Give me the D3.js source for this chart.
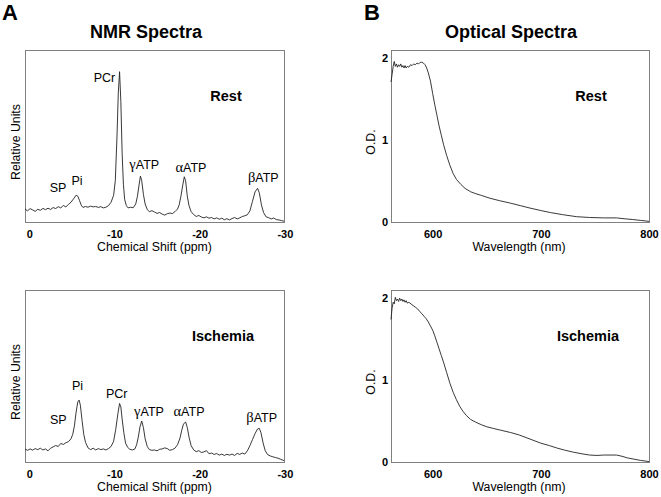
<!DOCTYPE html>
<html><head><meta charset="utf-8">
<script src="https://cdn.jsdelivr.net/npm/d3@7"></script>
<style>body{margin:0;background:#fff} svg text{font-family:"Liberation Sans",Arial,sans-serif;fill:#000}</style>
</head><body><svg id="c" width="661" height="497"></svg>
<script>
// ---------- data ----------
const nmrTicks = [0, -10, -20, -30];
const odXTicks = [600, 700, 800];
const odYTicks = [0, 1, 2];

// NMR spectra: [chemical shift (ppm), relative units]
const nmrRest = [
[0.5,7.5],[0.2,6.5],[-0.1,7.8],[-0.4,7.0],[-0.7,6.2],[-1.0,7.4],[-1.3,6.8],[-1.6,7.9],[-1.9,7.2],[-2.2,8.0],
[-2.5,7.3],[-2.8,8.4],[-3.1,7.8],[-3.4,8.9],[-3.7,8.2],[-4.0,9.6],[-4.3,8.8],[-4.6,10.2],[-4.9,11.5],[-5.2,13.5],
[-5.5,15.6],[-5.7,15.0],[-5.9,12.5],[-6.1,9.8],[-6.3,8.5],[-6.6,9.0],[-6.9,8.6],[-7.2,9.2],[-7.5,8.8],[-7.8,9.0],
[-8.1,8.5],[-8.4,8.9],[-8.7,8.2],[-9.0,8.6],[-9.3,9.5],[-9.6,11.5],[-9.9,15.5],[-10.1,24],[-10.3,50],[-10.45,75],
[-10.6,87.4],[-10.75,70],[-10.9,40],[-11.05,22],[-11.2,13],[-11.4,9.5],[-11.6,8.2],[-11.9,8.6],[-12.2,8.3],[-12.5,10.5],
[-12.7,15],[-12.9,22],[-13.05,26.7],[-13.2,24],[-13.4,16],[-13.6,10.5],[-13.85,7.2],[-14.1,6.0],[-14.4,6.6],[-14.7,5.8],
[-15.0,5.0],[-15.3,5.5],[-15.6,4.6],[-15.9,4.0],[-16.2,4.8],[-16.5,5.2],[-16.8,4.9],[-17.1,6.0],[-17.4,7.5],[-17.6,10.0],
[-17.8,15.0],[-18.0,21],[-18.2,26.3],[-18.35,24],[-18.55,15],[-18.75,9.5],[-19.0,6.0],[-19.3,4.3],[-19.6,3.2],[-19.9,3.8],
[-20.2,2.9],[-20.5,2.4],[-20.8,3.0],[-21.1,2.2],[-21.4,2.6],[-21.7,1.8],[-22.0,2.4],[-22.3,1.6],[-22.6,2.2],[-22.9,1.3],
[-23.2,1.9],[-23.5,1.2],[-23.8,2.0],[-24.1,2.6],[-24.4,1.8],[-24.7,2.4],[-25.0,3.2],[-25.3,3.6],[-25.6,4.2],[-25.9,6.5],
[-26.2,12],[-26.5,17.5],[-26.8,19.6],[-27.0,17],[-27.25,10],[-27.5,5.5],[-27.8,3.0],[-28.1,2.5],[-28.4,1.8],[-28.7,2.3],
[-29.0,1.4],[-29.3,1.2],[-29.6,0.8],[-29.9,0.5]
];
const nmrIsch = [
[0.5,7.5],[0.2,6.8],[-0.1,7.6],[-0.4,6.9],[-0.7,7.8],[-1.0,7.2],[-1.3,8.0],[-1.6,7.0],[-1.9,7.6],[-2.2,6.5],
[-2.5,8.0],[-2.8,8.8],[-3.1,9.6],[-3.4,9.0],[-3.7,10.8],[-4.0,10.2],[-4.3,11.2],[-4.6,11.8],[-4.9,13.5],[-5.1,16],
[-5.3,21],[-5.5,29],[-5.7,35],[-5.85,36],[-6.0,33],[-6.2,24],[-6.4,16],[-6.6,11.5],[-6.9,8.2],[-7.2,7.2],
[-7.5,8.0],[-7.8,7.0],[-8.1,7.8],[-8.4,7.2],[-8.7,7.6],[-9.0,7.0],[-9.3,7.8],[-9.6,9.0],[-9.9,12],[-10.15,19],
[-10.4,28],[-10.6,34],[-10.75,32],[-10.9,25],[-11.1,17],[-11.3,11],[-11.55,8.5],[-11.8,7.4],[-12.1,7.0],[-12.4,7.6],
[-12.6,10],[-12.8,14.5],[-13.0,20.5],[-13.2,23.8],[-13.4,20],[-13.6,13.5],[-13.85,9],[-14.1,7.2],[-14.4,6.8],[-14.7,7.0],
[-15.0,6.5],[-15.3,7.4],[-15.6,7.6],[-15.9,8.2],[-16.2,7.8],[-16.5,6.8],[-16.8,7.2],[-17.1,8.0],[-17.4,10.0],[-17.7,14],
[-17.9,18.5],[-18.1,22],[-18.35,23.3],[-18.55,20],[-18.75,14.5],[-19.0,9.5],[-19.3,7.0],[-19.6,6.0],[-19.9,6.6],[-20.2,5.5],
[-20.5,5.9],[-20.8,6.6],[-21.1,4.8],[-21.4,5.2],[-21.7,4.4],[-22.0,4.9],[-22.3,4.0],[-22.6,4.6],[-22.9,3.8],[-23.2,4.5],
[-23.5,4.0],[-23.8,4.6],[-24.1,3.8],[-24.4,5.0],[-24.7,4.4],[-25.0,5.2],[-25.3,4.6],[-25.6,6.5],[-25.9,9.5],[-26.2,13],
[-26.5,16.5],[-26.8,19.2],[-27.0,19.6],[-27.2,17],[-27.45,11],[-27.7,6.5],[-28.0,4.2],[-28.3,3.5],[-28.6,3.0],[-28.9,2.6],
[-29.2,2.2],[-29.5,1.6],[-29.9,0.8]
];

// Optical spectra: [wavelength (nm), O.D.]
const odRest = [
[561.5,1.71],[562.5,1.80],[563.5,1.90],[564.5,1.96],[565.5,1.90],[566.5,1.93],[567.5,1.89],[568.5,1.92],[569.5,1.90],[570.5,1.93],
[571.5,1.89],[572.5,1.91],[573.5,1.88],[574.5,1.91],[575.5,1.88],[576.5,1.90],[578,1.89],[579.5,1.92],[581,1.91],[582.5,1.93],
[584,1.92],[585.5,1.94],[587,1.93],[588.5,1.95],[590,1.95],[591.5,1.94],[593,1.92],[594.5,1.88],[596,1.82],[598,1.72],
[600,1.57],[602,1.43],[604,1.30],[606,1.17],[608,1.06],[610,0.95],[613,0.81],[616,0.69],[619,0.59],[622,0.52],
[626,0.46],[630,0.41],[635,0.37],[640,0.345],[645,0.325],[653,0.29],[662,0.26],[672,0.23],[681,0.20],[690,0.17],
[700,0.14],[709,0.115],[720,0.09],[733,0.065],[745,0.055],[758,0.05],[770,0.05],[777,0.04],[785,0.03],[792,0.02],[800,0.008]
];
const odIsch = [
[561.5,1.74],[562.5,1.88],[563.5,1.95],[564.5,1.93],[565.5,2.01],[566.5,1.97],[567.5,1.99],[568.5,1.96],[569.5,2.00],[570.5,1.97],
[571.5,1.99],[572.5,1.96],[573.5,1.98],[574.5,1.95],[575.5,1.97],[576.5,1.94],[578,1.95],[580,1.93],[582,1.91],[584,1.89],
[586,1.87],[588,1.84],[590,1.81],[592,1.78],[594,1.75],[596,1.71],[598,1.66],[600,1.61],[602,1.54],[604,1.46],
[606,1.38],[608,1.30],[610,1.22],[613,1.09],[616,0.96],[619,0.85],[622,0.76],[625,0.68],[628,0.62],[631,0.57],
[635,0.52],[640,0.485],[645,0.455],[650,0.43],[656,0.41],[664,0.385],[672,0.36],[680,0.33],[690,0.28],[700,0.23],
[708,0.20],[715,0.17],[722,0.145],[730,0.12],[738,0.10],[745,0.085],[752,0.08],[758,0.085],[765,0.085],[770,0.085],
[775,0.07],[780,0.05],[786,0.035],[792,0.02],[800,0.005]
];

// peak labels: [greek prefix, name, ppm, relative units of baseline]
const peaksRest = [["","SP",-3.37,17.3],["","Pi",-5.60,21.5],["","PCr",-8.83,81.6],["γ","ATP",-13.5,30.6],["α","ATP",-18.98,28.9],["β","ATP",-27.47,23.4]];
const peaksIsch = [["","SP",-3.41,22.1],["","Pi",-5.66,41.9],["","PCr",-10.27,37.4],["γ","ATP",-14.05,26.9],["α","ATP",-18.75,26.9],["β","ATP",-27.28,23.4]];

// ---------- drawing ----------
const svg = d3.select("#c");

function panel(o){
  const {x0,x1,y0,y1,xDom,yDom,data,xTicks,yTicks,xLabel,yLabel,yLabelY,cond,condX,peaks} = o;
  const x = d3.scaleLinear().domain(xDom).range([x0,x1]);
  const y = d3.scaleLinear().domain(yDom).range([y1,y0]);
  const g = svg.append("g");
  g.append("rect").attr("x",x0+0.5).attr("y",y0+0.5).attr("width",x1-x0).attr("height",y1-y0)
    .attr("fill","none").attr("stroke","#808080").attr("stroke-width",1);
  g.append("path").datum(data)
    .attr("d", d3.line().x(d=>x(d[0])).y(d=>y(d[1])))
    .attr("fill","none").attr("stroke","#222").attr("stroke-width",0.9);
  const ax = g.append("g").attr("transform",`translate(0,${y1})`)
    .call(d3.axisBottom(x).tickValues(xTicks).tickSize(0).tickPadding(8).tickFormat(d=>String(d)));
  ax.select(".domain").remove();
  ax.selectAll("text").attr("font-size",11).attr("font-weight","bold").style("font-family","'Liberation Sans',Arial,sans-serif");
  if(yTicks){
    const ay = g.append("g").attr("transform",`translate(${x0},0)`)
      .call(d3.axisLeft(y).tickValues(yTicks).tickSize(0).tickPadding(3).tickFormat(d=>String(d)));
    ay.select(".domain").remove();
    ay.selectAll("text").attr("font-size",11).attr("font-weight","bold").style("font-family","'Liberation Sans',Arial,sans-serif");
  }
  g.append("text").attr("x",(x0+x1)/2+ (o.xLabelDx||0)).attr("y",y1+28.5).attr("text-anchor","middle")
    .attr("font-size",12.3).text(xLabel);
  g.append("text").attr("transform",`translate(${o.yLabelX},${yLabelY}) rotate(-90)`)
    .attr("text-anchor","middle").attr("font-size",12.3).text(yLabel);
  g.append("text").attr("x",condX).attr("y",y0+51).attr("text-anchor","middle")
    .attr("font-size",14.5).attr("font-weight","bold").text(cond);
  if(peaks){
    peaks.forEach(p=>{
      const t = g.append("text").attr("x",x(p[2])).attr("y",y(p[3])).attr("text-anchor","middle").attr("font-size",12.5);
      if(p[0]) t.append("tspan").style("font-family","'Liberation Serif','Times New Roman',serif").attr("font-size",14.5).text(p[0]);
      t.append("tspan").text(p[1]);
    });
  }
}

const nmrDom = [0.5,-29.9], odDom = [561.5,800];
panel({x0:25,x1:284,y0:50,y1:222,xDom:nmrDom,yDom:[0,100],data:nmrRest,xTicks:nmrTicks,
  xLabel:"Chemical Shift (ppm)",yLabel:"Relative Units",yLabelX:20,yLabelY:142,cond:"Rest",condX:226,peaks:peaksRest});
panel({x0:25,x1:284,y0:290,y1:462,xDom:nmrDom,yDom:[0,100],data:nmrIsch,xTicks:nmrTicks,
  xLabel:"Chemical Shift (ppm)",yLabel:"Relative Units",yLabelX:20,yLabelY:382,cond:"Ischemia",condX:223,peaks:peaksIsch});
panel({x0:391,x1:649,y0:50,y1:222,xDom:odDom,yDom:[0,2.1],data:odRest,xTicks:odXTicks,yTicks:odYTicks,xLabelDx:-1,
  xLabel:"Wavelength (nm)",yLabel:"O.D.",yLabelX:375,yLabelY:142,cond:"Rest",condX:591});
panel({x0:391,x1:649,y0:290,y1:462,xDom:odDom,yDom:[0,2.1],data:odIsch,xTicks:odXTicks,yTicks:odYTicks,xLabelDx:-1,
  xLabel:"Wavelength (nm)",yLabel:"O.D.",yLabelX:375,yLabelY:382,cond:"Ischemia",condX:588});

svg.append("text").attr("x",2).attr("y",20).attr("font-size",22).attr("font-weight","bold").text("A");
svg.append("text").attr("x",364).attr("y",20).attr("font-size",22).attr("font-weight","bold").text("B");
svg.append("text").attr("x",146).attr("y",38).attr("text-anchor","middle").attr("font-size",18).attr("font-weight","bold").text("NMR Spectra");
svg.append("text").attr("x",511).attr("y",38).attr("text-anchor","middle").attr("font-size",18).attr("font-weight","bold").text("Optical Spectra");
</script></body></html>
